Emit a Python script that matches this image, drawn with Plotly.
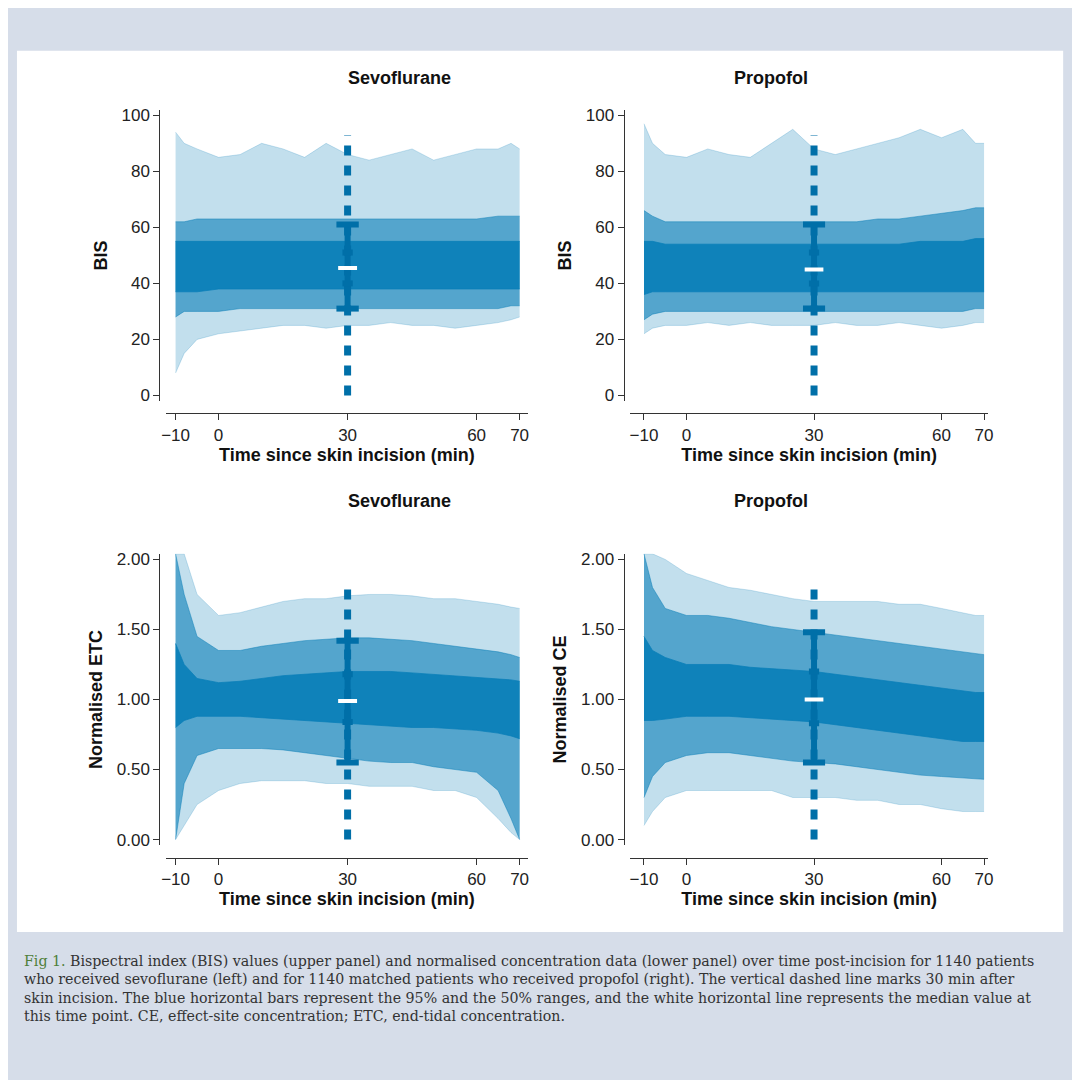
import plotly.graph_objects as go

# time grid (min since skin incision) used for the envelope estimates
t = [-10, -8, -5, 0, 5, 10, 15, 20, 25, 30, 35, 40, 45, 50, 55, 60, 65, 68, 70]

# BIS sevoflurane envelopes
sevo_bis_min = [8, 15, 20, 22, 23, 24, 25, 25, 24, 25, 25, 26, 25, 25, 24, 25, 26, 27, 28]
sevo_bis_lo = [28, 30, 30, 30, 31, 31, 31, 31, 31, 31, 31, 31, 31, 31, 31, 31, 31, 32, 32]
sevo_bis_q1 = [37, 37, 37, 38, 38, 38, 38, 38, 38, 38, 38, 38, 38, 38, 38, 38, 38, 38, 38]
sevo_bis_q3 = [55, 55, 55, 55, 55, 55, 55, 55, 55, 55, 55, 55, 55, 55, 55, 55, 55, 55, 55]
sevo_bis_hi = [62, 62, 63, 63, 63, 63, 63, 63, 63, 63, 63, 63, 63, 63, 63, 63, 64, 64, 64]
sevo_bis_max = [94, 90, 88, 85, 86, 90, 88, 85, 90, 86, 84, 86, 88, 84, 86, 88, 88, 90, 88]

# BIS propofol envelopes
prop_bis_min = [22, 24, 25, 25, 26, 25, 26, 25, 25, 25, 26, 25, 25, 26, 25, 24, 25, 26, 26]
prop_bis_lo = [27, 29, 30, 30, 30, 30, 30, 30, 30, 30, 30, 30, 30, 30, 30, 30, 30, 31, 31]
prop_bis_q1 = [36, 37, 37, 37, 37, 37, 37, 37, 37, 37, 37, 37, 37, 37, 37, 37, 37, 37, 37]
prop_bis_q3 = [55, 55, 54, 54, 54, 54, 54, 54, 54, 54, 54, 54, 54, 54, 55, 55, 55, 56, 56]
prop_bis_hi = [66, 64, 62, 62, 62, 62, 62, 62, 62, 62, 62, 62, 63, 63, 64, 65, 66, 67, 67]
prop_bis_max = [97, 90, 86, 85, 88, 86, 85, 90, 95, 88, 86, 88, 90, 92, 95, 92, 95, 90, 90]

# normalised ETC (sevoflurane)
sevo_etc_min = [0.00, 0.10, 0.25, 0.35, 0.40, 0.42, 0.42, 0.42, 0.40, 0.40, 0.38, 0.38, 0.38, 0.35, 0.35, 0.30, 0.15, 0.05, 0.00]
sevo_etc_lo = [0.00, 0.40, 0.60, 0.65, 0.65, 0.65, 0.64, 0.62, 0.60, 0.58, 0.56, 0.55, 0.55, 0.52, 0.50, 0.48, 0.35, 0.15, 0.00]
sevo_etc_q1 = [0.80, 0.85, 0.88, 0.88, 0.88, 0.87, 0.86, 0.85, 0.84, 0.83, 0.82, 0.81, 0.80, 0.80, 0.79, 0.78, 0.76, 0.74, 0.72]
sevo_etc_q3 = [1.40, 1.25, 1.15, 1.12, 1.13, 1.15, 1.17, 1.18, 1.19, 1.20, 1.20, 1.20, 1.19, 1.18, 1.17, 1.16, 1.15, 1.14, 1.13]
sevo_etc_hi = [2.04, 1.75, 1.45, 1.35, 1.35, 1.38, 1.40, 1.42, 1.43, 1.44, 1.44, 1.43, 1.42, 1.40, 1.38, 1.36, 1.34, 1.32, 1.30]
sevo_etc_max = [2.04, 2.04, 1.75, 1.60, 1.62, 1.66, 1.70, 1.72, 1.72, 1.74, 1.75, 1.75, 1.74, 1.72, 1.72, 1.70, 1.68, 1.66, 1.65]

# normalised CE (propofol)
prop_ce_min = [0.10, 0.20, 0.30, 0.35, 0.35, 0.35, 0.35, 0.35, 0.30, 0.30, 0.30, 0.28, 0.28, 0.25, 0.25, 0.22, 0.20, 0.20, 0.20]
prop_ce_lo = [0.30, 0.45, 0.55, 0.60, 0.62, 0.62, 0.60, 0.58, 0.56, 0.55, 0.54, 0.52, 0.50, 0.48, 0.46, 0.45, 0.44, 0.43, 0.43]
prop_ce_q1 = [0.85, 0.85, 0.86, 0.88, 0.88, 0.88, 0.87, 0.86, 0.85, 0.84, 0.82, 0.80, 0.78, 0.76, 0.74, 0.72, 0.70, 0.70, 0.70]
prop_ce_q3 = [1.45, 1.35, 1.30, 1.25, 1.25, 1.25, 1.23, 1.22, 1.21, 1.20, 1.18, 1.16, 1.14, 1.12, 1.10, 1.08, 1.06, 1.05, 1.05]
prop_ce_hi = [2.04, 1.80, 1.65, 1.60, 1.60, 1.58, 1.55, 1.52, 1.50, 1.48, 1.46, 1.44, 1.42, 1.40, 1.38, 1.36, 1.34, 1.33, 1.32]
prop_ce_max = [2.04, 2.04, 2.00, 1.90, 1.85, 1.80, 1.78, 1.75, 1.72, 1.70, 1.70, 1.70, 1.70, 1.68, 1.68, 1.65, 1.62, 1.60, 1.60]

# summary at 30 min: [2.5%, 25%, median, 75%, 97.5%]
sevo_bis_30 = [31, 40, 45.5, 51, 61]
prop_bis_30 = [31, 40, 45, 51, 61]
sevo_etc_30 = [0.55, 0.84, 0.99, 1.18, 1.42]
prop_ce_30 = [0.55, 0.83, 1.00, 1.20, 1.48]

BLUE = "#0a7fb8"
DARK = "#006fa8"


def W(c, a):
    r, g, b = int(c[1:3], 16), int(c[3:5], 16), int(c[5:7], 16)
    return f"rgba({r},{g},{b},{a})"


fig = go.Figure()

panels = [
    (sevo_bis_min, sevo_bis_lo, sevo_bis_q1, sevo_bis_q3, sevo_bis_hi, sevo_bis_max, sevo_bis_30,
     "", [-2, 102], "BIS", 93, [0.1435, 0.482], [0.6365, 0.908], 0.625, [0, 20, 40, 60, 80, 100], None),
    (prop_bis_min, prop_bis_lo, prop_bis_q1, prop_bis_q3, prop_bis_hi, prop_bis_max, prop_bis_30,
     "2", [-2, 102], "BIS", 93, [0.577, 0.9116], [0.6365, 0.908], 0.625, [0, 20, 40, 60, 80, 100], None),
    (sevo_etc_min, sevo_etc_lo, sevo_etc_q1, sevo_etc_q3, sevo_etc_hi, sevo_etc_max, sevo_etc_30,
     "3", [-0.04, 2.04], "Normalised ETC", 1.85, [0.1435, 0.482], [0.2226, 0.4941], 0.211, [0, 0.5, 1, 1.5, 2], ".2f"),
    (prop_ce_min, prop_ce_lo, prop_ce_q1, prop_ce_q3, prop_ce_hi, prop_ce_max, prop_ce_30,
     "4", [-0.04, 2.04], "Normalised CE", 1.85, [0.577, 0.9116], [0.2226, 0.4941], 0.211, [0, 0.5, 1, 1.5, 2], ".2f"),
]

tick_font = dict(family="Liberation Sans", size=17, color="#222")
title_font = dict(family="Liberation Sans", size=18, color="#111")
layout = {}
for (mn, lo, q1, q3, hi, mx, st, ax, yr, ytitle, dtop, xd, yd, xpos, yt, yfmt) in panels:
    xa, ya = "x" + ax, "y" + ax
    for low, high, a in [(mn, mx, 0.25), (lo, hi, 0.6), (q1, q3, 0.92)]:
        fig.add_trace(go.Scatter(x=t, y=low, xaxis=xa, yaxis=ya, mode="lines",
                                 line=dict(width=0.8, color=W(BLUE, a)), showlegend=False, hoverinfo="skip"))
        fig.add_trace(go.Scatter(x=t, y=high, xaxis=xa, yaxis=ya, mode="lines", fill="tonexty",
                                 fillcolor=W(BLUE, a), line=dict(width=0.8, color=W(BLUE, a)),
                                 showlegend=False, hoverinfo="skip"))
    # dotted vertical line at 30 min
    fig.add_trace(go.Scatter(x=[30, 30], y=[0, dtop], xaxis=xa, yaxis=ya, mode="lines",
                             line=dict(width=7, color=DARK, dash="10px,10px"), showlegend=False))
    # 95% range with caps
    fig.add_trace(go.Scatter(x=[30, 30], y=[st[0], st[4]], xaxis=xa, yaxis=ya, mode="lines",
                             line=dict(width=6, color=DARK), showlegend=False))
    for v, hw, c, w in [(st[0], 2.6, DARK, 6), (st[4], 2.6, DARK, 6),
                        (st[1], 1.2, DARK, 6), (st[3], 1.2, DARK, 6), (st[2], 2.2, "white", 4)]:
        fig.add_trace(go.Scatter(x=[30 - hw, 30 + hw], y=[v, v], xaxis=xa, yaxis=ya, mode="lines",
                                 line=dict(width=w, color=c), showlegend=False))
    key = "xaxis" + ax
    layout[key] = dict(domain=xd, range=[-12.3 if xd[0] < 0.3 else -13.3, 72 if xd[0] < 0.3 else 71],
                       anchor="free", position=xpos, tickvals=[-10, 0, 30, 60, 70],
                       ticktext=["\u221210", "0", "30", "60", "70"], showline=True, linecolor="#333",
                       ticks="outside", ticklen=6, tickcolor="#333", showgrid=False, zeroline=False,
                       tickfont=tick_font, title=dict(text="<b>Time since skin incision (min)</b>",
                                                      font=title_font, standoff=4))
    layout["yaxis" + ax] = dict(domain=yd, range=yr, anchor="free", position=xd[0] - 0.006,
                                tickvals=yt, tickformat=yfmt, showline=True, linecolor="#333",
                                ticks="outside", ticklen=6, tickcolor="#333",
                                minor=dict(ticks="outside", ticklen=4, nticks=2, tickcolor="#333"),
                                showgrid=False, zeroline=False, tickfont=tick_font,
                                title=dict(text=f"<b>{ytitle}</b>", font=title_font, standoff=8))

fig.update_layout(**layout)

for x, y, s in [(0.312, 0.949, "Sevoflurane"), (0.745, 0.949, "Propofol"),
                (0.312, 0.543, "Sevoflurane"), (0.745, 0.543, "Propofol")]:
    fig.add_annotation(x=x, y=y, xref="paper", yref="paper", text=f"<b>{s}</b>", showarrow=False,
                       font=dict(family="Liberation Sans", size=18, color="#111"))

caption = ("<span style='color:#4f7f3a'>Fig 1.</span> Bispectral index (BIS) values (upper panel) and normalised concentration data (lower panel) over time post-incision for 1140 patients<br>"
           "who received sevoflurane (left) and for 1140 matched patients who received propofol (right). The vertical dashed line marks 30 min after<br>"
           "skin incision. The blue horizontal bars represent the 95% and the 50% ranges, and the white horizontal line represents the median value at<br>"
           "this time point. CE, effect-site concentration; ETC, end-tidal concentration.")
fig.add_annotation(x=0.009, y=0.124, xref="paper", yref="paper", xanchor="left", yanchor="top",
                   text=caption, showarrow=False, align="left",
                   font=dict(family="DejaVu Serif", size=14.2, color="#333"))

fig.add_shape(type="rect", xref="paper", yref="paper", x0=5 / 1080, x1=1060 / 1080,
              y0=1 - 927 / 1080, y1=1 - 40 / 1080, fillcolor="white", line_width=0, layer="below")

fig.update_layout(width=1080, height=1080, margin=dict(l=0, r=0, t=0, b=0),
                  paper_bgcolor="#d6dde9", plot_bgcolor="rgba(0,0,0,0)")
fig.write_html("out.html")
